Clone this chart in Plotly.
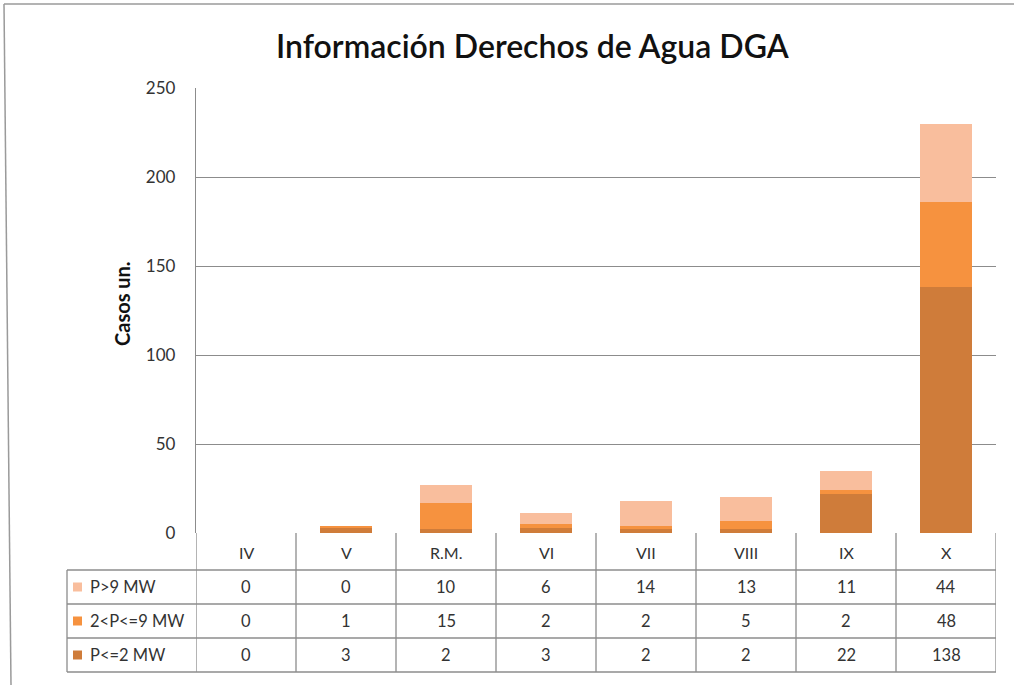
import plotly.graph_objects as go

categories = ["IV", "V", "R.M.", "VI", "VII", "VIII", "IX", "X"]
series_names = ["P>9 MW", "2<P<=9 MW", "P<=2 MW"]
p_gt9 = [0, 0, 10, 6, 14, 13, 11, 44]
p_2_9 = [0, 1, 15, 2, 2, 5, 2, 48]
p_le2 = [0, 3, 2, 3, 2, 2, 22, 138]
y_ticks = [0, 50, 100, 150, 200, 250]

colors = {"P>9 MW": "#F9BE9D", "2<P<=9 MW": "#F6923F", "P<=2 MW": "#CF7C3A"}
values = {"P>9 MW": p_gt9, "2<P<=9 MW": p_2_9, "P<=2 MW": p_le2}

W, H = 1014, 685
def px(x):
    return x / W
def py(y):
    return 1 - y / H

FONT = "Lato"
GRID = "#8C8C8C"
TXT = "#333333"

fig = go.Figure()
for name in ["P<=2 MW", "2<P<=9 MW", "P>9 MW"]:
    fig.add_trace(go.Bar(x=categories, y=values[name], name=name,
                         marker=dict(color=colors[name], line=dict(width=0)),
                         showlegend=False))

shapes = []
annotations = []

t_top, row_lines = 533, [570, 604, 638, 672]
t_left = 67
n = len(categories)
for i in range(n + 1):
    shapes.append(dict(type="line", xref="x", yref="paper", x0=i - 0.5, x1=i - 0.5,
                       y0=py(t_top), y1=py(row_lines[-1]), line=dict(color=GRID, width=1.3)))
shapes.append(dict(type="line", xref="paper", yref="paper", x0=px(t_left), x1=px(t_left),
                   y0=py(row_lines[0]), y1=py(row_lines[-1]), line=dict(color=GRID, width=1.3)))
for yl in row_lines:
    shapes.append(dict(type="line", xref="paper", yref="paper", x0=px(t_left), x1=px(996),
                       y0=py(yl), y1=py(yl), line=dict(color=GRID, width=1.3)))

for c in categories:
    annotations.append(dict(x=c, xref="x", y=py(552), yref="paper", text=c, showarrow=False,
                            font=dict(family=FONT, size=16, color=TXT), xanchor="center", yanchor="middle"))
row_centers = [587, 621, 655]
for name, yc in zip(series_names, row_centers):
    shapes.append(dict(type="rect", xref="paper", yref="paper", x0=px(73), x1=px(82),
                       y0=py(yc - 4.5), y1=py(yc + 4.5), fillcolor=colors[name], line=dict(width=0)))
    annotations.append(dict(x=px(88), xref="paper", y=py(yc), yref="paper", text=name.replace("<", "&lt;"),
                            showarrow=False, font=dict(family=FONT, size=16.5, color=TXT),
                            xanchor="left", yanchor="middle"))
    for c, v in zip(categories, values[name]):
        annotations.append(dict(x=c, xref="x", y=py(yc), yref="paper", text=str(v), showarrow=False,
                                font=dict(family=FONT, size=16.5, color=TXT), xanchor="center", yanchor="middle"))

annotations.append(dict(x=px(533), xref="paper", y=py(45), yref="paper", text="Información Derechos de Agua DGA",
                        showarrow=False, font=dict(family=FONT, size=32, color="#111111", weight=600),
                        xanchor="center", yanchor="middle"))
annotations.append(dict(x=px(122), xref="paper", y=py(304), yref="paper", text="<b>Casos un.</b>",
                        showarrow=False, textangle=-90, font=dict(family=FONT, size=20, color="#111111"),
                        xanchor="center", yanchor="middle"))

shapes.append(dict(type="line", xref="paper", yref="paper", x0=px(4), x1=px(1014), y0=py(4), y1=py(4),
                   line=dict(color="#9A9A9A", width=1.5)))
shapes.append(dict(type="line", xref="paper", yref="paper", x0=px(4), x1=px(11), y0=py(4), y1=py(685),
                   line=dict(color="#9A9A9A", width=1.5)))

fig.update_layout(
    width=W, height=H,
    margin=dict(l=0, r=0, t=0, b=0, pad=0, autoexpand=False),
    paper_bgcolor="white", plot_bgcolor="white",
    barmode="stack", bargap=0.485,
    font=dict(family=FONT, size=14, color=TXT),
    xaxis=dict(domain=[px(196), px(996)], showticklabels=False, showgrid=False, zeroline=False,
               showline=False, ticks="", range=[-0.5, n - 0.5], automargin=False),
    yaxis=dict(domain=[py(533), py(88)], range=[0, 250], tickvals=y_ticks, showgrid=True,
               gridcolor=GRID, gridwidth=1.2, zeroline=False, showline=True, linecolor=GRID, linewidth=1.3,
               ticks="", ticklabelstandoff=16, tickfont=dict(family=FONT, size=17, color=TXT),
               automargin=False),
    shapes=shapes, annotations=annotations,
)

fig.write_html("out.html", config={"responsive": False, "displayModeBar": False},
               post_script="document.body.style.margin='0';document.body.style.overflow='hidden';")
